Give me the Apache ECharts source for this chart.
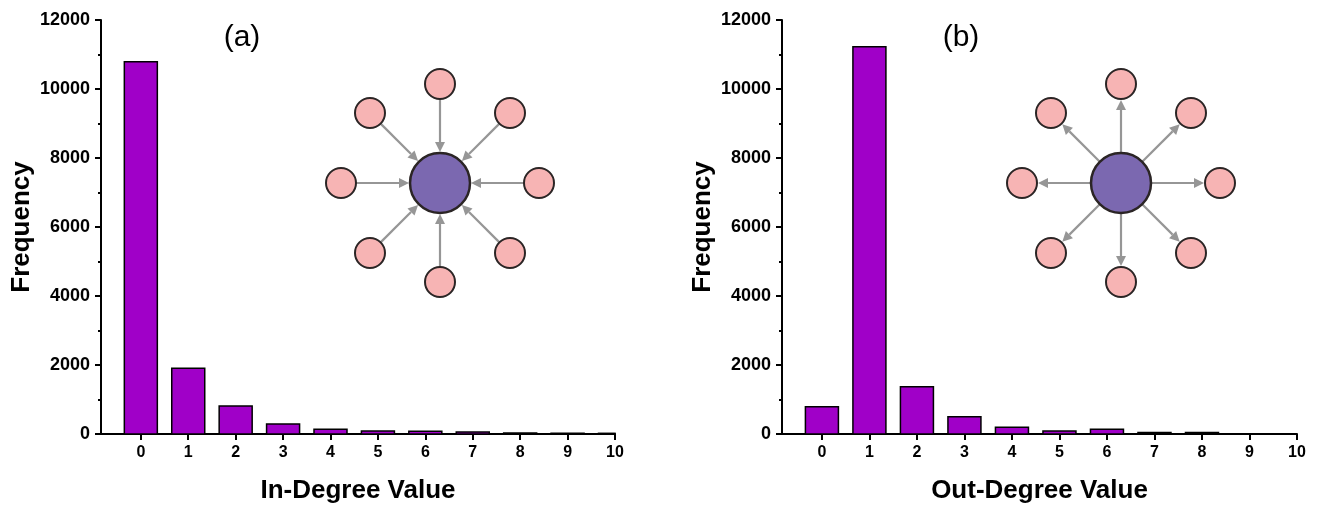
<!DOCTYPE html>
<html>
<head>
<meta charset="utf-8">
<script src="https://cdn.jsdelivr.net/npm/echarts@6/dist/echarts.min.js"></script>
<style>
html,body{margin:0;padding:0;background:#fff;}
#chart{width:1318px;height:510px;}
</style>
</head>
<body>
<div id="chart"></div>
<script>
// ---- data ----
const degrees = [0, 1, 2, 3, 4, 5, 6, 7, 8, 9, 10];
const inDegreeFreq = [10790, 1905, 812, 290, 136, 85, 80, 55, 30, 25, 20];
const outDegreeFreq = [790, 11225, 1372, 502, 193, 85, 135, 40, 40, 0, 0];
const yTicks = [0, 2000, 4000, 6000, 8000, 10000, 12000];
const panelLabels = ['(a)', '(b)'];
const xTitles = ['In-Degree Value', 'Out-Degree Value'];
const yTitle = 'Frequency';

const FONT = "'Liberation Sans', Arial, sans-serif";
const BAR_COLOR = '#a000c8';
const BAR_WIDTH_PX = 33;

function xAxisCfg(gi, name) {
  return {
    type: 'value', gridIndex: gi, min: -0.84, max: 10,
    axisLine: { show: true, onZero: false, lineStyle: { color: '#000', width: 2 } },
    axisTick: { show: true, customValues: degrees, length: 6, lineStyle: { color: '#000', width: 2 } },
    axisLabel: { customValues: degrees, fontSize: 16, fontWeight: 'bold', color: '#000', margin: 11, fontFamily: FONT },
    splitLine: { show: false },
    name: name, nameLocation: 'middle', nameGap: 44,
    nameTextStyle: { fontSize: 26, fontWeight: 'bold', color: '#000', fontFamily: FONT }
  };
}
function yAxisCfg(gi) {
  return {
    type: 'value', gridIndex: gi, min: yTicks[0], max: yTicks[yTicks.length - 1], interval: yTicks[1] - yTicks[0],
    axisLine: { show: true, onZero: false, lineStyle: { color: '#000', width: 2 } },
    axisTick: { show: true, length: 6, lineStyle: { color: '#000', width: 2 } },
    minorTick: { show: true, splitNumber: 2, length: 3, lineStyle: { color: '#000', width: 2 } },
    axisLabel: { fontSize: 18, fontWeight: 'bold', color: '#000', margin: 11, fontFamily: FONT,
      formatter: v => String(v) },
    splitLine: { show: false },
    name: yTitle, nameLocation: 'middle', nameGap: 66,
    nameTextStyle: { fontSize: 26, fontWeight: 'bold', color: '#000', fontFamily: FONT }
  };
}
// bars via custom series so they are clipped exactly at the plot edge
function barSeries(gi, vals) {
  return {
    type: 'custom', xAxisIndex: gi, yAxisIndex: gi, silent: true,
    data: degrees.map((d, i) => [d, vals[i]]),
    renderItem: function (params, api) {
      const x = api.value(0), y = api.value(1);
      if (!(y > 0)) return null;
      const p0 = api.coord([x, 0]);
      const p1 = api.coord([x, y]);
      const cs = params.coordSys;
      const rect = echarts.graphic.clipRectByRect(
        { x: p0[0] - BAR_WIDTH_PX / 2, y: p1[1], width: BAR_WIDTH_PX, height: p0[1] - p1[1] },
        { x: cs.x, y: cs.y, width: cs.width, height: cs.height });
      if (!rect) return null;
      return { type: 'rect', shape: rect,
        style: { fill: BAR_COLOR, stroke: '#000', lineWidth: 1.5 } };
    }
  };
}

// ---- star diagrams (illustrations) ----
function diagram(cx, cy, inward) {
  const R = 99, rOut = 15, rIn = 30, head = 10, half = 5;
  const els = [];
  const gray = '#969696';
  for (let k = 0; k < 8; k++) {
    const a = k * Math.PI / 4;
    const ux = Math.cos(a), uy = Math.sin(a);
    let tip, base, start;
    if (inward) { start = R - rOut; tip = rIn + 1; base = tip + head; }
    else { start = rIn; tip = R - rOut - 1; base = tip - head; }
    els.push({ type: 'line', shape: { x1: cx + ux * start, y1: cy + uy * start, x2: cx + ux * base, y2: cy + uy * base },
      style: { stroke: gray, lineWidth: 2.2 }, z: 10 });
    const px = -uy, py = ux;
    els.push({ type: 'polygon', shape: { points: [
      [cx + ux * tip, cy + uy * tip],
      [cx + ux * base + px * half, cy + uy * base + py * half],
      [cx + ux * base - px * half, cy + uy * base - py * half]
    ] }, style: { fill: gray }, z: 10 });
    els.push({ type: 'circle', shape: { cx: cx + ux * R, cy: cy + uy * R, r: rOut },
      style: { fill: '#f7b4b4', stroke: '#2b2525', lineWidth: 2 }, z: 11 });
  }
  els.push({ type: 'circle', shape: { cx: cx, cy: cy, r: rIn },
    style: { fill: '#7b68b0', stroke: '#2b2525', lineWidth: 2.5 }, z: 11 });
  return els;
}

const chart = echarts.init(document.getElementById('chart'), null, { renderer: 'canvas' });
chart.setOption({
  backgroundColor: '#fff',
  animation: false,
  textStyle: { fontFamily: FONT },
  grid: [
    { left: 101, top: 20, width: 514, bottom: 76 },
    { left: 782, top: 20, width: 515, bottom: 76 }
  ],
  xAxis: [xAxisCfg(0, xTitles[0]), xAxisCfg(1, xTitles[1])],
  yAxis: [yAxisCfg(0), yAxisCfg(1)],
  series: [barSeries(0, inDegreeFreq), barSeries(1, outDegreeFreq)],
  graphic: [
    { type: 'text', x: 242, y: 38, style: { text: panelLabels[0], font: '30px ' + FONT, fill: '#000', align: 'center', verticalAlign: 'middle' } },
    { type: 'text', x: 961, y: 38, style: { text: panelLabels[1], font: '30px ' + FONT, fill: '#000', align: 'center', verticalAlign: 'middle' } }
  ].concat(diagram(440, 183, true)).concat(diagram(1121, 183, false))
});
</script>
</body>
</html>
